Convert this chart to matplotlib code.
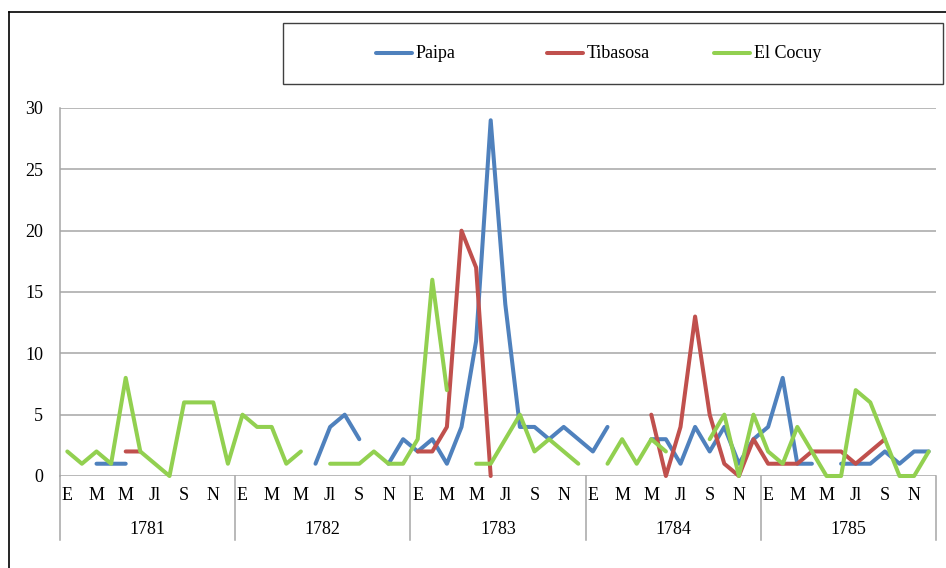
import numpy as np
import matplotlib.pyplot as plt
import matplotlib.transforms as mtransforms
from matplotlib.lines import Line2D
from matplotlib.patches import Rectangle

plt.rcParams['font.family'] = ['Liberation Serif', 'DejaVu Serif']

nan = np.nan

# ---------------------------
# data: monthly counts 1781-1785 (nan = no record)
# ---------------------------
years = ['1781', '1782', '1783', '1784', '1785']
month_labels = ['E', 'M', 'M', 'Jl', 'S', 'N']

paipa = [
    nan, nan, 1, 1, 1, nan, nan, nan, nan, nan, nan, nan,
    nan, nan, nan, nan, nan, 1, 4, 5, 3, nan, 1, 3,
    2, 3, 1, 4, 11, 29, 14, 4, 4, 3, 4, 3,
    2, 4, nan, nan, 3, 3, 1, 4, 2, 4, 1, 3,
    4, 8, 1, 1, nan, 1, 1, 1, 2, 1, 2, 2,
]
tibasosa = [
    nan, nan, nan, nan, 2, 2, nan, nan, nan, nan, nan, nan,
    nan, nan, nan, nan, nan, nan, nan, nan, nan, nan, nan, nan,
    2, 2, 4, 20, 17, 0, nan, nan, nan, nan, nan, nan,
    nan, nan, nan, nan, 5, 0, 4, 13, 5, 1, 0, 3,
    1, 1, 1, 2, 2, 2, 1, 2, 3, nan, nan, nan,
]
el_cocuy = [
    2, 1, 2, 1, 8, 2, 1, 0, 6, 6, 6, 1,
    5, 4, 4, 1, 2, nan, 1, 1, 1, 2, 1, 1,
    3, 16, 7, nan, 1, 1, 3, 5, 2, 3, 2, 1,
    nan, 1, 3, 1, 3, 2, nan, nan, 3, 5, 0, 5,
    2, 1, 4, 2, 0, 0, 7, 6, 3, 0, 0, 2,
]

series = [
    ('Paipa', paipa, '#4F81BD'),
    ('Tibasosa', tibasosa, '#C0504D'),
    ('El Cocuy', el_cocuy, '#92D050'),
]

W, H = 946, 568
GRID = '#A6A6A6'
FS = 13

fig = plt.figure(figsize=(W / 100, H / 100), dpi=100)
ax = fig.add_axes([60 / W, 1 - 476 / H, 876 / W, 368 / H])

x = np.arange(len(paipa))
for name, vals, color in series:
    ax.plot(x, vals, color=color, lw=2.9, solid_capstyle='round',
            solid_joinstyle='round', clip_on=False, label=name, zorder=3)

ax.set_xlim(-0.5, len(paipa) - 0.5)
ax.set_ylim(0, 30)
ax.set_yticks(range(0, 31, 5))
ax.tick_params(axis='y', length=0, pad=12, labelsize=FS)
ax.set_xticks([])
ax.yaxis.grid(True, color=GRID, lw=1.1)
ax.set_axisbelow(True)
for side in ['top', 'right', 'bottom']:
    ax.spines[side].set_visible(False)
ax.spines['left'].set_color(GRID)
ax.spines['left'].set_linewidth(1.1)

# two-level category axis: months and years
axh = 368
trans = mtransforms.blended_transform_factory(ax.transData, ax.transAxes)
for b in range(len(years) + 1):
    ax.plot([12 * b - 0.5] * 2, [0, -64 / axh], transform=trans,
            color=GRID, lw=1.1, clip_on=False)
for i, yr in enumerate(years):
    for j, lab in enumerate(month_labels):
        ax.text(12 * i + 2 * j, -20 / axh, lab, transform=trans,
                ha='center', va='center', fontsize=FS)
    ax.text(12 * i + 5.5, -54 / axh, yr, transform=trans,
            ha='center', va='center', fontsize=FS)

# outer chart frame (left and top edges)
fig.add_artist(Line2D([9 / W, 9 / W], [0, 1 - 12 / H], transform=fig.transFigure,
                      color='black', lw=1.2))
fig.add_artist(Line2D([9 / W, 1], [1 - 12 / H, 1 - 12 / H], transform=fig.transFigure,
                      color='black', lw=1.2))

# legend box
fig.add_artist(Rectangle((283 / W, 1 - 84 / H), (943 - 283) / W, 61 / H,
                         transform=fig.transFigure, fill=False,
                         edgecolor='#404040', lw=1.0))
leg_y = 1 - 53 / H
for (name, vals, color), hx in zip(series, [376, 547, 714]):
    fig.add_artist(Line2D([hx / W, (hx + 36) / W], [leg_y, leg_y],
                          transform=fig.transFigure, color=color, lw=2.9,
                          solid_capstyle='round'))
    fig.text((hx + 40) / W, leg_y, name, ha='left', va='center', fontsize=FS)

fig.savefig('out.png', dpi=100)
